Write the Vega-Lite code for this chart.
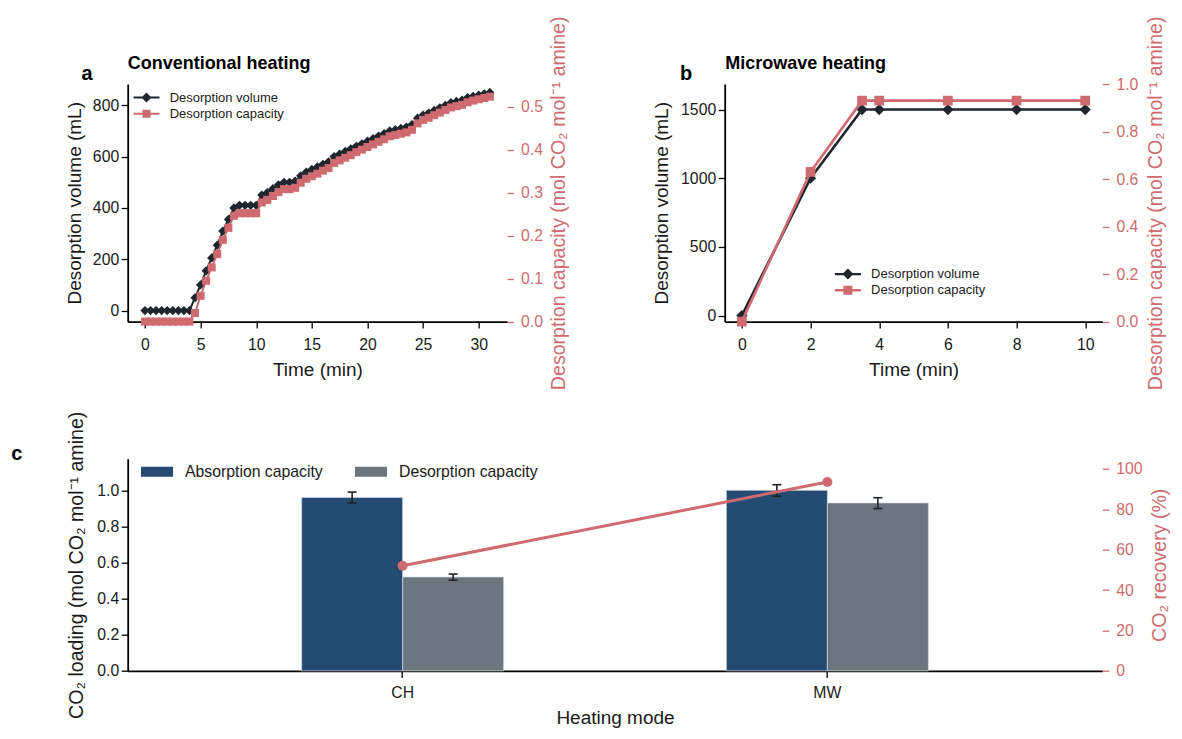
{
  "$schema": "https://vega.github.io/schema/vega-lite/v6.json",
  "padding": {"left": 10.7, "top": 15, "right": 5, "bottom": 5},
  "background": "white",
  "config": {
    "font": "Liberation Sans",
    "view": {"stroke": null},
    "axis": {"grid": false, "domainColor": "#000000", "domainWidth": 1.8, "tickColor": "#000000", "tickWidth": 1.3, "tickSize": 6.5, "labelFont": "Liberation Sans", "labelFontSize": 15.8, "labelColor": "#1a1a1a", "titleFont": "Liberation Sans", "titleFontSize": 19, "titleFontWeight": "normal", "titleColor": "#1a1a1a", "labelFlush": false, "labelOverlap": false},
    "legend": {"labelFont": "Liberation Sans", "labelColor": "#1a1a1a", "padding": 0, "labelLimit": 400},
    "title": {"font": "Liberation Sans", "color": "#000000"}
  },
  "datasets": {
    "aVol": [
      {"t": 0, "v": 0}, {"t": 0.5, "v": 0}, {"t": 1, "v": 0}, {"t": 1.5, "v": 0}, {"t": 2, "v": 0}, {"t": 2.5, "v": 0}, {"t": 3, "v": 0}, {"t": 3.5, "v": 0}, {"t": 4, "v": 0},
      {"t": 4.5, "v": 50}, {"t": 5, "v": 100}, {"t": 5.5, "v": 155}, {"t": 6, "v": 205}, {"t": 6.5, "v": 255}, {"t": 7, "v": 310}, {"t": 7.5, "v": 355}, {"t": 8, "v": 400},
      {"t": 8.5, "v": 410}, {"t": 9, "v": 410}, {"t": 9.5, "v": 410}, {"t": 10, "v": 410}, {"t": 10.5, "v": 450}, {"t": 11, "v": 460}, {"t": 11.5, "v": 475}, {"t": 12, "v": 490},
      {"t": 12.5, "v": 500}, {"t": 13, "v": 500}, {"t": 13.5, "v": 505}, {"t": 14, "v": 525}, {"t": 14.5, "v": 540}, {"t": 15, "v": 550}, {"t": 15.5, "v": 560}, {"t": 16, "v": 570},
      {"t": 16.5, "v": 580}, {"t": 17, "v": 600}, {"t": 17.5, "v": 610}, {"t": 18, "v": 620}, {"t": 18.5, "v": 630}, {"t": 19, "v": 640}, {"t": 19.5, "v": 650}, {"t": 20, "v": 660},
      {"t": 20.5, "v": 670}, {"t": 21, "v": 680}, {"t": 21.5, "v": 690}, {"t": 22, "v": 700}, {"t": 22.5, "v": 705}, {"t": 23, "v": 710}, {"t": 23.5, "v": 715}, {"t": 24, "v": 725},
      {"t": 24.5, "v": 750}, {"t": 25, "v": 762}, {"t": 25.5, "v": 770}, {"t": 26, "v": 780}, {"t": 26.5, "v": 790}, {"t": 27, "v": 800}, {"t": 27.5, "v": 810}, {"t": 28, "v": 815},
      {"t": 28.5, "v": 820}, {"t": 29, "v": 830}, {"t": 29.5, "v": 835}, {"t": 30, "v": 840}, {"t": 30.5, "v": 845}, {"t": 31, "v": 850}
    ],
    "aCap": [
      {"t": 0, "c": 0}, {"t": 0.5, "c": 0}, {"t": 1, "c": 0}, {"t": 1.5, "c": 0}, {"t": 2, "c": 0}, {"t": 2.5, "c": 0}, {"t": 3, "c": 0}, {"t": 3.5, "c": 0}, {"t": 4, "c": 0},
      {"t": 4.5, "c": 0.02}, {"t": 5, "c": 0.06}, {"t": 5.5, "c": 0.095}, {"t": 6, "c": 0.126}, {"t": 6.5, "c": 0.157}, {"t": 7, "c": 0.19}, {"t": 7.5, "c": 0.218}, {"t": 8, "c": 0.246},
      {"t": 8.5, "c": 0.252}, {"t": 9, "c": 0.252}, {"t": 9.5, "c": 0.252}, {"t": 10, "c": 0.252}, {"t": 10.5, "c": 0.277}, {"t": 11, "c": 0.283}, {"t": 11.5, "c": 0.292}, {"t": 12, "c": 0.301},
      {"t": 12.5, "c": 0.308}, {"t": 13, "c": 0.308}, {"t": 13.5, "c": 0.311}, {"t": 14, "c": 0.323}, {"t": 14.5, "c": 0.332}, {"t": 15, "c": 0.338}, {"t": 15.5, "c": 0.344}, {"t": 16, "c": 0.351},
      {"t": 16.5, "c": 0.357}, {"t": 17, "c": 0.369}, {"t": 17.5, "c": 0.375}, {"t": 18, "c": 0.381}, {"t": 18.5, "c": 0.387}, {"t": 19, "c": 0.394}, {"t": 19.5, "c": 0.4}, {"t": 20, "c": 0.406},
      {"t": 20.5, "c": 0.412}, {"t": 21, "c": 0.418}, {"t": 21.5, "c": 0.424}, {"t": 22, "c": 0.431}, {"t": 22.5, "c": 0.434}, {"t": 23, "c": 0.437}, {"t": 23.5, "c": 0.44}, {"t": 24, "c": 0.446},
      {"t": 24.5, "c": 0.461}, {"t": 25, "c": 0.469}, {"t": 25.5, "c": 0.474}, {"t": 26, "c": 0.48}, {"t": 26.5, "c": 0.486}, {"t": 27, "c": 0.492}, {"t": 27.5, "c": 0.498}, {"t": 28, "c": 0.501},
      {"t": 28.5, "c": 0.504}, {"t": 29, "c": 0.51}, {"t": 29.5, "c": 0.514}, {"t": 30, "c": 0.517}, {"t": 30.5, "c": 0.52}, {"t": 31, "c": 0.523}
    ],
    "bVol": [
      {"t": 0, "v": 0}, {"t": 2, "v": 1000}, {"t": 3.5, "v": 1500}, {"t": 4, "v": 1500}, {"t": 6, "v": 1500}, {"t": 8, "v": 1500}, {"t": 10, "v": 1500}
    ],
    "bCap": [
      {"t": 0, "c": 0}, {"t": 2, "c": 0.63}, {"t": 3.5, "c": 0.93}, {"t": 4, "c": 0.93}, {"t": 6, "c": 0.93}, {"t": 8, "c": 0.93}, {"t": 10, "c": 0.93}
    ],
    "cBars": [
      {"mode": "CH", "type": "Absorption capacity", "value": 0.96, "lo": 0.93, "hi": 0.99},
      {"mode": "CH", "type": "Desorption capacity", "value": 0.52, "lo": 0.502, "hi": 0.536},
      {"mode": "MW", "type": "Absorption capacity", "value": 1.0, "lo": 0.967, "hi": 1.031},
      {"mode": "MW", "type": "Desorption capacity", "value": 0.93, "lo": 0.899, "hi": 0.959}
    ],
    "cRec": [
      {"mode": "CH", "recovery": 52},
      {"mode": "MW", "recovery": 93.5}
    ]
  },
  "vconcat": [
    {
      "hconcat": [
        {
          "width": 379.4,
          "height": 237.6,
          "layer": [
            {
              "data": {"name": "aVol"},
              "encoding": {
                "y": {"field": "v", "type": "quantitative", "title": "Desorption volume (mL)", "scale": {"domain": [-43, 883], "nice": false, "zero": false}, "axis": {"values": [0, 200, 400, 600, 800], "format": "d", "labelPadding": 2.5, "titlePadding": 8}},
                "color": {
                  "datum": "Desorption volume",
                  "scale": {"domain": ["Desorption volume", "Desorption capacity"], "range": ["#1f262e", "#cf6b70"]},
                  "legend": {
                    "orient": "none", "legendX": 12.3, "legendY": 7, "title": null, "labelFontSize": 13, "labelOffset": 16.7, "symbolSize": 100, "rowPadding": 2.2,
                    "encode": {"symbols": {"update": {
                      "shape": {"signal": "datum.value === 'Desorption volume' ? 'M-2.6,-0.2L2.6,-0.2L2.6,0.2L-2.6,0.2Z M0,-1L1,0L0,1L-1,0Z' : 'M-2.6,-0.2L2.6,-0.2L2.6,0.2L-2.6,0.2Z M-0.8,-0.8L0.8,-0.8L0.8,0.8L-0.8,0.8Z'"},
                      "fill": {"signal": "datum.value === 'Desorption volume' ? '#1f262e' : '#cf6b70'"},
                      "stroke": {"value": "transparent"}, "strokeWidth": {"value": 0}, "opacity": {"value": 1}
                    }}}
                  }
                }
              },
              "layer": [
                {
                  "mark": {"type": "line", "strokeWidth": 2},
                  "encoding": {"x": {"field": "t", "type": "quantitative", "title": "Time (min)", "scale": {"domain": [-1.55, 32.55], "nice": false, "zero": false}, "axis": {"values": [0, 5, 10, 15, 20, 25, 30], "labelPadding": 9, "titlePadding": 9}}}
                },
                {
                  "mark": {"type": "point", "shape": "diamond", "filled": true, "size": 85, "opacity": 1},
                  "encoding": {"x": {"field": "t", "type": "quantitative", "title": "Conventional heating", "scale": {"domain": [-1.55, 32.55], "nice": false, "zero": false}, "axis": {"orient": "top", "domain": false, "ticks": false, "labels": false, "titleX": -0.5, "titleY": -15.5, "titleAlign": "left", "titleBaseline": "alphabetic", "titleAngle": 0, "titleFontSize": 18, "titleFontWeight": "bold", "titleColor": "#000000"}}}
                }
              ],
              "resolve": {"axis": {"x": "independent"}}
            },
            {
              "data": {"name": "aCap"},
              "encoding": {
                "x": {"field": "t", "type": "quantitative", "title": "a", "scale": {"domain": [-1.55, 32.55], "nice": false, "zero": false}, "axis": {"orient": "top", "domain": false, "ticks": false, "labels": false, "titleX": -46.6, "titleY": -4.4, "titleAlign": "left", "titleBaseline": "alphabetic", "titleAngle": 0, "titleFontSize": 20, "titleFontWeight": "bold", "titleColor": "#000000"}},
                "y": {"field": "c", "type": "quantitative", "title": "Desorption capacity (mol CO₂ mol⁻¹ amine)", "scale": {"domain": [0, 0.5525], "nice": false, "zero": false}, "axis": {"orient": "right", "values": [0, 0.1, 0.2, 0.3, 0.4, 0.5], "format": ".1f", "domain": false, "tickColor": "#cf6b70", "labelColor": "#cf6b70", "titleColor": "#cf6b70", "titleFontSize": 19.6, "titleAngle": 270, "titleBaseline": "top", "labelPadding": 7, "titlePadding": 7}},
                "color": {"datum": "Desorption capacity"}
              },
              "layer": [
                {"mark": {"type": "line", "strokeWidth": 2}},
                {"mark": {"type": "point", "shape": "square", "filled": true, "size": 64, "opacity": 1}}
              ]
            }
          ],
          "resolve": {"scale": {"y": "independent"}, "axis": {"x": "independent"}}
        },
        {
          "width": 377.7,
          "height": 237.6,
          "layer": [
            {
              "data": {"name": "bVol"},
              "encoding": {
                "y": {"field": "v", "type": "quantitative", "title": "Desorption volume (mL)", "scale": {"domain": [-44, 1686], "nice": false, "zero": false}, "axis": {"values": [0, 500, 1000, 1500], "format": "d", "labelPadding": 2.5, "titlePadding": 9}},
                "color": {
                  "datum": "Desorption volume",
                  "scale": {"domain": ["Desorption volume", "Desorption capacity"], "range": ["#1f262e", "#cf6b70"]},
                  "legend": {
                    "orient": "none", "legendX": 116.7, "legendY": 183.6, "title": null, "labelFontSize": 13, "labelOffset": 16.7, "symbolSize": 100, "rowPadding": 2.2,
                    "encode": {"symbols": {"update": {
                      "shape": {"signal": "datum.value === 'Desorption volume' ? 'M-2.6,-0.24L2.6,-0.24L2.6,0.24L-2.6,0.24Z M0,-1.1L1.1,0L0,1.1L-1.1,0Z' : 'M-2.6,-0.24L2.6,-0.24L2.6,0.24L-2.6,0.24Z M-0.9,-0.9L0.9,-0.9L0.9,0.9L-0.9,0.9Z'"},
                      "fill": {"signal": "datum.value === 'Desorption volume' ? '#1f262e' : '#cf6b70'"},
                      "stroke": {"value": "transparent"}, "strokeWidth": {"value": 0}, "opacity": {"value": 1}
                    }}}
                  }
                }
              },
              "layer": [
                {
                  "mark": {"type": "line", "strokeWidth": 2.6},
                  "encoding": {"x": {"field": "t", "type": "quantitative", "title": "Time (min)", "scale": {"domain": [-0.5, 10.5], "nice": false, "zero": false}, "axis": {"values": [0, 2, 4, 6, 8, 10], "labelPadding": 9, "titlePadding": 9}}}
                },
                {
                  "mark": {"type": "point", "shape": "diamond", "filled": true, "size": 125, "opacity": 1},
                  "encoding": {"x": {"field": "t", "type": "quantitative", "title": "Microwave heating", "scale": {"domain": [-0.5, 10.5], "nice": false, "zero": false}, "axis": {"orient": "top", "domain": false, "ticks": false, "labels": false, "titleX": 0, "titleY": -15.5, "titleAlign": "left", "titleBaseline": "alphabetic", "titleAngle": 0, "titleFontSize": 18, "titleFontWeight": "bold", "titleColor": "#000000"}}}
                }
              ],
              "resolve": {"axis": {"x": "independent"}}
            },
            {
              "data": {"name": "bCap"},
              "encoding": {
                "x": {"field": "t", "type": "quantitative", "title": "b", "scale": {"domain": [-0.5, 10.5], "nice": false, "zero": false}, "axis": {"orient": "top", "domain": false, "ticks": false, "labels": false, "titleX": -45.2, "titleY": -4.4, "titleAlign": "left", "titleBaseline": "alphabetic", "titleAngle": 0, "titleFontSize": 20, "titleFontWeight": "bold", "titleColor": "#000000"}},
                "y": {"field": "c", "type": "quantitative", "title": "Desorption capacity (mol CO₂ mol⁻¹ amine)", "scale": {"domain": [0, 1.0], "nice": false, "zero": false}, "axis": {"orient": "right", "values": [0, 0.2, 0.4, 0.6, 0.8, 1.0], "format": ".1f", "domain": false, "tickColor": "#cf6b70", "labelColor": "#cf6b70", "titleColor": "#cf6b70", "titleFontSize": 19.6, "titleAngle": 270, "titleBaseline": "top", "labelPadding": 7, "titlePadding": 9}},
                "color": {"datum": "Desorption capacity"}
              },
              "layer": [
                {"mark": {"type": "line", "strokeWidth": 2.6}},
                {"mark": {"type": "point", "shape": "square", "filled": true, "size": 95, "opacity": 1}}
              ]
            }
          ],
          "resolve": {"scale": {"y": "independent"}, "axis": {"x": "independent"}}
        }
      ],
      "spacing": 217,
      "bounds": "flush",
      "resolve": {"scale": {"color": "independent"}, "legend": {"color": "independent"}}
    },
    {
      "width": 974.6,
      "height": 212.2,
      "layer": [
        {
          "data": {"name": "cBars"},
          "encoding": {
            "x": {"field": "mode", "type": "nominal", "title": "Heating mode", "scale": {"domain": ["CH", "MW"], "paddingInner": 0.5244, "paddingOuter": 0.4095}, "axis": {"labelAngle": 0, "labelPadding": 8.3, "titlePadding": 8.3, "bandPosition": 0.5}},
            "xOffset": {"field": "type", "type": "nominal", "scale": {"domain": ["Absorption capacity", "Desorption capacity"], "paddingInner": 0, "paddingOuter": 0}}
          },
          "layer": [
            {
              "mark": {"type": "bar", "stroke": "#d3d9e0", "strokeWidth": 0.7},
              "encoding": {
                "y": {"field": "value", "type": "quantitative", "title": "CO₂ loading (mol CO₂ mol⁻¹ amine)", "scale": {"domain": [0, 1.175], "nice": false, "zero": false}, "axis": {"values": [0, 0.2, 0.4, 0.6, 0.8, 1.0], "format": ".1f", "labelPadding": 2.5, "titlePadding": 10, "titleFontSize": 19.6}},
                "color": {
                  "field": "type", "type": "nominal",
                  "scale": {"domain": ["Absorption capacity", "Desorption capacity"], "range": ["#264b73", "#6d757e"]},
                  "legend": {"orient": "none", "legendX": 13.3, "legendY": -3, "direction": "horizontal", "columns": 2, "title": null, "symbolType": "M-1,-0.31L1,-0.31L1,0.31L-1,0.31Z", "symbolSize": 1024, "symbolStrokeWidth": 0, "labelFontSize": 15.8, "labelOffset": 12, "columnPadding": 32}
                }
              }
            },
            {
              "mark": {"type": "rule", "color": "#1e2329", "strokeWidth": 1.6},
              "encoding": {
                "y": {"field": "lo", "type": "quantitative", "title": "CO₂ loading (mol CO₂ mol⁻¹ amine)", "scale": {"domain": [0, 1.175], "nice": false, "zero": false}},
                "y2": {"field": "hi"}
              }
            },
            {
              "mark": {"type": "tick", "color": "#1e2329", "thickness": 1.6, "size": 9, "opacity": 1},
              "encoding": {"y": {"field": "lo", "type": "quantitative", "title": "CO₂ loading (mol CO₂ mol⁻¹ amine)", "scale": {"domain": [0, 1.175], "nice": false, "zero": false}}}
            },
            {
              "mark": {"type": "tick", "color": "#1e2329", "thickness": 1.6, "size": 9, "opacity": 1},
              "encoding": {"y": {"field": "hi", "type": "quantitative", "title": "CO₂ loading (mol CO₂ mol⁻¹ amine)", "scale": {"domain": [0, 1.175], "nice": false, "zero": false}}}
            }
          ]
        },
        {
          "data": {"name": "cRec"},
          "encoding": {
            "x": {"field": "mode", "type": "nominal", "title": "c", "axis": {"orient": "top", "domain": false, "ticks": false, "labels": false, "titleX": -117, "titleY": 0.7, "titleAlign": "left", "titleBaseline": "alphabetic", "titleAngle": 0, "titleFontSize": 20, "titleFontWeight": "bold", "titleColor": "#000000"}},
            "y": {"field": "recovery", "type": "quantitative", "title": "CO₂ recovery (%)", "scale": {"domain": [0, 105], "nice": false, "zero": false}, "axis": {"orient": "right", "values": [0, 20, 40, 60, 80, 100], "domain": false, "tickColor": "#cf6b70", "labelColor": "#cf6b70", "titleColor": "#cf6b70", "titleFontSize": 19.6, "titleAngle": 270, "titleBaseline": "top", "labelPadding": 7, "titlePadding": 8}}
          },
          "layer": [
            {"mark": {"type": "line", "color": "#cf6b70", "strokeWidth": 3}},
            {"mark": {"type": "point", "shape": "circle", "filled": true, "size": 100, "color": "#cf6b70", "opacity": 1}}
          ]
        }
      ],
      "resolve": {"scale": {"y": "independent"}, "axis": {"x": "independent"}}
    }
  ],
  "spacing": 20.7,
  "resolve": {"scale": {"color": "independent"}, "legend": {"color": "independent"}}
}
